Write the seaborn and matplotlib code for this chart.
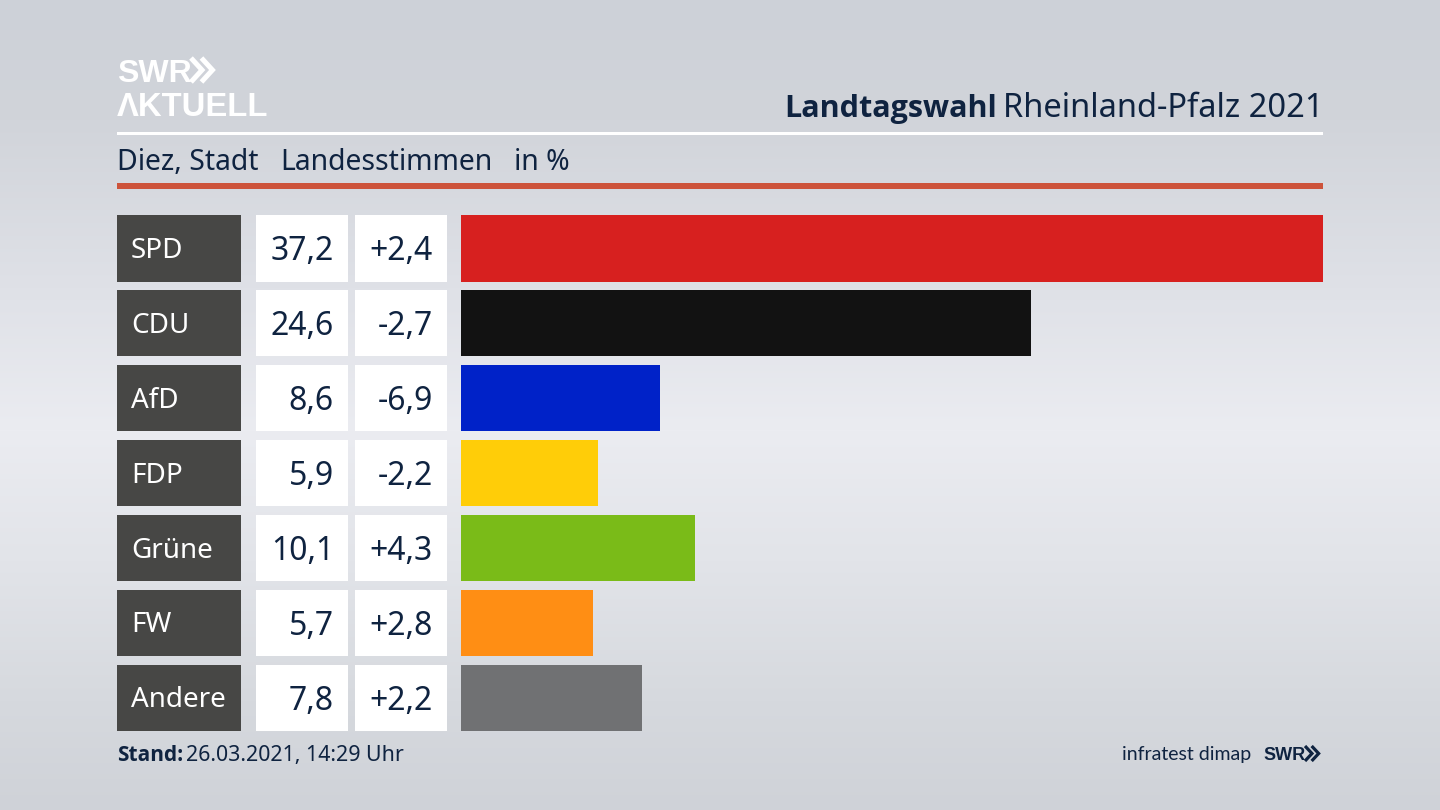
import numpy as np
import pandas as pd
import matplotlib
matplotlib.use("Agg")
import matplotlib.pyplot as plt
from matplotlib.patches import Rectangle
import seaborn as sns

parties = ["SPD", "CDU", "AfD", "FDP", "Grüne", "FW", "Andere"]
shares = [37.2, 24.6, 8.6, 5.9, 10.1, 5.7, 7.8]
changes = ["+2,4", "-2,7", "-6,9", "-2,2", "+4,3", "+2,8", "+2,2"]
colors = ["#d7201f", "#121212", "#0022c8", "#ffcd08", "#7abb18", "#ff8e14", "#707173"]

NAVY = "#0f2340"
FONT = "Noto Sans"
HEAVY = "Open Sans"
LOGO = "Liberation Sans"
W, H = 1440, 810
ROW0, STEP, ROWH = 215.0, 74.95, 66.5

sns.set_theme(style="white")
plt.rcParams["font.family"] = [FONT, "DejaVu Sans"]
fig = plt.figure(figsize=(W / 100, H / 100), dpi=100)

# background gradient
bg = fig.add_axes([0, 0, 1, 1], zorder=0)
ys = np.array([0, 120, 300, 430, 560, 700, 810], float)
vals = np.array([[0xcd, 0xd1, 0xd8], [0xd1, 0xd4, 0xda], [0xe0, 0xe2, 0xe8], [0xeb, 0xec, 0xf1],
                 [0xe2, 0xe4, 0xe9], [0xd6, 0xd9, 0xde], [0xcf, 0xd2, 0xd8]], float) / 255
yy = np.arange(H)
grad = np.stack([np.interp(yy, ys, vals[:, i]) for i in range(3)], axis=1)[:, None, :]
bg.imshow(grad, aspect="auto", extent=[0, W, H, 0])
bg.axis("off")

# bars
top, bottom = ROW0, ROW0 + 6 * STEP + ROWH
ax = fig.add_axes([461 / W, 1 - bottom / H, (1323 - 461) / W, (bottom - top) / H], zorder=1)
df = pd.DataFrame({"party": parties, "share": shares})
sns.barplot(data=df, x="share", y="party", hue="party", palette=colors, order=parties,
            hue_order=parties, width=ROWH / STEP, dodge=False, legend=False, ax=ax, saturation=1,
            linewidth=0, edgecolor="none")
ax.set_xlim(0, max(shares))
ax.set_ylim(6 + ROWH / 2 / STEP, -ROWH / 2 / STEP)
ax.axis("off")

# overlay in pixel coordinates
ov = fig.add_axes([0, 0, 1, 1], zorder=2)
ov.set_xlim(0, W)
ov.set_ylim(H, 0)
ov.axis("off")

def t(x, y, s, size, color=NAVY, ha="left", va="baseline", **kw):
    return ov.text(x, y, s, fontsize=size, color=color, ha=ha, va=va, **kw)

for i, (p, s, c) in enumerate(zip(parties, shares, changes)):
    y = ROW0 + i * STEP
    cy = y + ROWH / 2
    ov.add_patch(Rectangle((117, y), 124, ROWH, fc="#474745", lw=0))
    ov.add_patch(Rectangle((256, y), 92, ROWH, fc="white", lw=0))
    ov.add_patch(Rectangle((355, y), 92, ROWH, fc="white", lw=0))
    t(131, cy + 9.5, p, 20, color="white")
    t(334, cy + 12, f"{s:.1f}".replace(".", ","), 23, ha="right")
    t(432.7, cy + 12, c, 23, ha="right")

# rules
ov.add_patch(Rectangle((117, 132), 1206, 3, fc="white", lw=0))
ov.add_patch(Rectangle((117, 183), 1206, 6, fc="#cd533b", lw=0))

# header
t(117, 170, "Diez, Stadt", 20.4)
t(280.5, 170, "Landesstimmen", 20.4)
t(514.5, 170, "in %", 20.4)
reg = t(1324, 117, "Rheinland-Pfalz 2021", 23.5, ha="right")
fig.canvas.draw()
ext = reg.get_window_extent()
t(997, 117, "Landtagswahl", 22, ha="right", family=HEAVY, fontweight="bold")

# footer
t(117, 761, "Stand:", 15, family=HEAVY, fontweight="bold")
t(186.5, 761, "26.03.2021, 14:29 Uhr", 15.4)
t(1251, 760, "infratest dimap", 14, ha="right", family="Lato")
t(1263, 760, "SWR", 13, family=LOGO, fontweight="bold")

def chevrons(x, y0, y1, w, lw, color):
    for dx in (0, w * 0.95):
        ov.plot([x + dx, x + dx + w, x + dx], [y0, (y0 + y1) / 2, y1], color=color, lw=lw,
                solid_joinstyle="miter", solid_capstyle="butt")

chevrons(1305, 746, 761, 7, 2.3, NAVY)

# logo
t(117, 82, "SWR", 23, color="white", family=LOGO, fontweight="bold")
chevrons(191, 58, 82, 11, 3.6, "white")
t(117, 116, "ΛKTUELL", 23.6, color="white", family=LOGO, fontweight="bold")

fig.savefig("out.png", dpi=100)
